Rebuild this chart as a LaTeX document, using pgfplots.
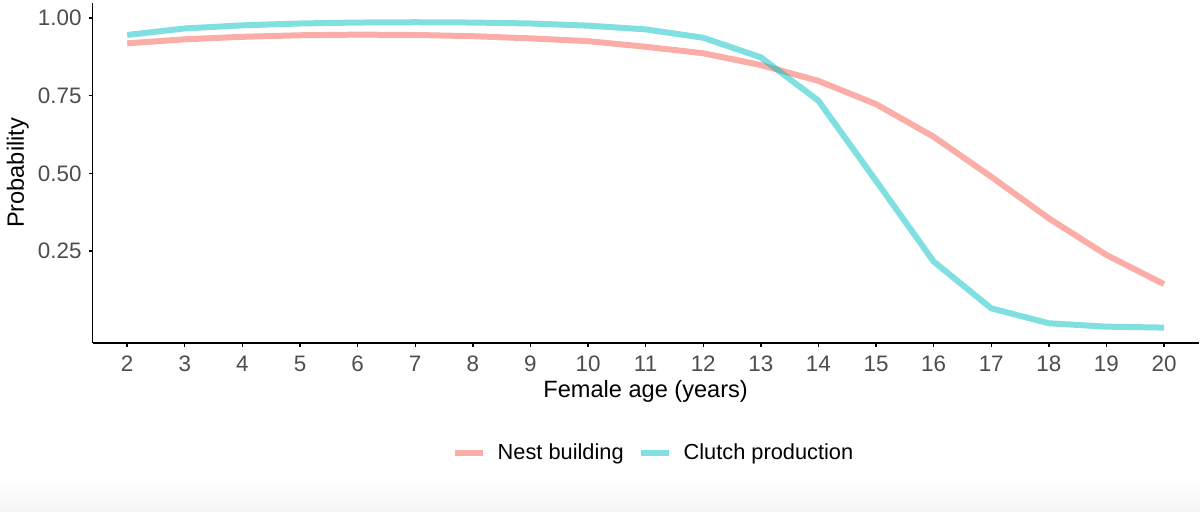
\documentclass[border=0pt]{standalone}
\usepackage{fontspec}
\setmainfont{Liberation Sans}
\usepackage{pgfplots}
\pgfplotsset{compat=1.18}
\definecolor{nestc}{HTML}{F8766D}
\definecolor{clutchc}{HTML}{00BFC4}
\definecolor{tickc}{HTML}{4D4D4D}
\begin{document}
\begin{tikzpicture}
\fill[top color=white, bottom color=black!4] (-46pt,-84.5pt) rectangle (554pt,-67.5pt);
\begin{axis}[
  scale only axis,
  width=553.3pt, height=170pt,
  xmin=1.4, xmax=20.6,
  ymin=-0.046, ymax=1.049,
  axis x line=bottom, axis y line=left,
  axis line style={-, black, line width=0.75pt},
  tick align=outside,
  major tick length=2pt,
  tick style={black, line width=0.7pt},
  xtick={2,3,...,20},
  ytick={0.25,0.5,0.75,1},
  yticklabels={0.25,0.50,0.75,1.00},
  /pgf/number format/assume math mode=true,
  ticklabel style={font=\fontsize{11.2}{13}\selectfont, text=tickc},
  xticklabel style={yshift=-1pt},
  xlabel={Female age (years)},
  ylabel={Probability},
  label style={font=\fontsize{11.8}{14}\selectfont, text=black},
  xlabel style={at={(axis description cs:0.5,-0.144)}, anchor=center},
  ylabel style={at={(axis description cs:-0.0678,0.5)}, anchor=center},
  legend columns=2,
  legend style={at={(axis description cs:0.508,-0.324)}, anchor=center, draw=none, fill=none,
    font=\fontsize{10.9}{13}\selectfont,
    /tikz/every even column/.append style={column sep=5pt}},
  legend cell align=left,
  legend image code/.code={\draw[#1] (0pt,0pt) -- (14pt,0pt); \path (18pt,0pt);},
  clip=false,
]
\addplot[color=nestc, opacity=0.6, line width=3pt] coordinates {
(2,0.919) (3,0.932) (4,0.940) (5,0.945) (6,0.947) (7,0.946) (8,0.942) (9,0.935) (10,0.926)
(11,0.908) (12,0.887) (13,0.849) (14,0.798) (15,0.723) (16,0.618) (17,0.489) (18,0.355) (19,0.237) (20,0.143)};
\addlegendentry{Nest building}
\addplot[color=clutchc, opacity=0.5, line width=3pt] coordinates {
(2,0.946) (3,0.967) (4,0.977) (5,0.983) (6,0.986) (7,0.987) (8,0.986) (9,0.983) (10,0.976)
(11,0.964) (12,0.937) (13,0.874) (14,0.734) (15,0.476) (16,0.216) (17,0.065) (18,0.017) (19,0.006) (20,0.003)};
\addlegendentry{Clutch production}
\end{axis}
\useasboundingbox (-46pt,-84.5pt) rectangle (554pt,171.5pt);
\end{tikzpicture}
\end{document}
